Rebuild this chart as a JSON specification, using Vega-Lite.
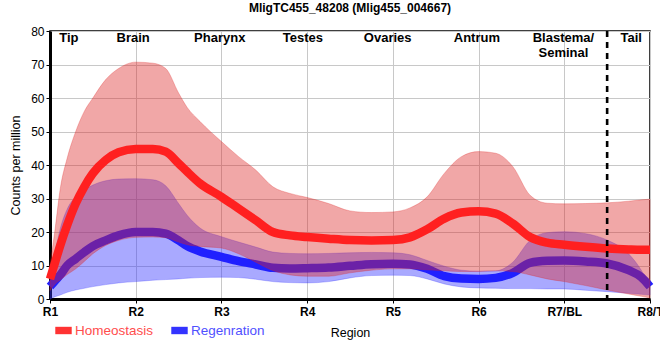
{
  "$schema": "https://vega.github.io/schema/vega-lite/v6.json",
  "width": 600,
  "height": 268,
  "autosize": "none",
  "padding": {"left": 50, "top": 31, "right": 10, "bottom": 61},
  "title": {"text": "MligTC455_48208 (Mlig455_004667)", "fontSize": 12, "fontWeight": "bold", "font": "Liberation Sans", "offset": 10, "color": "#000000"},
  "config": {
    "font": "Liberation Sans",
    "view": {"stroke": "#000000", "strokeWidth": 1.5},
    "axis": {"gridColor": "#c8c8c8", "gridWidth": 1, "domainColor": "#000000", "domainWidth": 3, "tickColor": "#000000", "labelColor": "#000000", "titleColor": "#000000", "titleFontWeight": "normal", "titleFontSize": 12.5, "labelOverlap": false}
  },
  "datasets": {
    "expr": [
      {"idx": 1, "condition": "Homeostasis", "mean": 6, "lower": 2.5, "upper": 10},
      {"idx": 1.06, "condition": "Homeostasis", "mean": 11, "lower": 4.5, "upper": 21},
      {"idx": 1.12, "condition": "Homeostasis", "mean": 16, "lower": 5.7, "upper": 33},
      {"idx": 1.2, "condition": "Homeostasis", "mean": 22, "lower": 7.3, "upper": 42},
      {"idx": 1.3, "condition": "Homeostasis", "mean": 28.5, "lower": 9, "upper": 50},
      {"idx": 1.4, "condition": "Homeostasis", "mean": 33.5, "lower": 11.2, "upper": 56},
      {"idx": 1.5, "condition": "Homeostasis", "mean": 37.5, "lower": 13.5, "upper": 60},
      {"idx": 1.65, "condition": "Homeostasis", "mean": 41.5, "lower": 16, "upper": 65.5},
      {"idx": 1.8, "condition": "Homeostasis", "mean": 43.8, "lower": 17.5, "upper": 68.8},
      {"idx": 2, "condition": "Homeostasis", "mean": 44.8, "lower": 18.4, "upper": 70.7},
      {"idx": 2.2, "condition": "Homeostasis", "mean": 44.8, "lower": 18.5, "upper": 70.4},
      {"idx": 2.35, "condition": "Homeostasis", "mean": 44, "lower": 18.3, "upper": 68.8},
      {"idx": 2.5, "condition": "Homeostasis", "mean": 40.5, "lower": 17, "upper": 61.5},
      {"idx": 2.6, "condition": "Homeostasis", "mean": 38, "lower": 16.2, "upper": 57.2},
      {"idx": 2.75, "condition": "Homeostasis", "mean": 34.5, "lower": 15.7, "upper": 53},
      {"idx": 3, "condition": "Homeostasis", "mean": 30.5, "lower": 15.2, "upper": 47},
      {"idx": 3.2, "condition": "Homeostasis", "mean": 27, "lower": 13.5, "upper": 42.5},
      {"idx": 3.4, "condition": "Homeostasis", "mean": 23.5, "lower": 11, "upper": 38.5},
      {"idx": 3.6, "condition": "Homeostasis", "mean": 20, "lower": 8.5, "upper": 33.5},
      {"idx": 3.8, "condition": "Homeostasis", "mean": 19, "lower": 7.2, "upper": 31.5},
      {"idx": 4, "condition": "Homeostasis", "mean": 18.5, "lower": 6.8, "upper": 30.3},
      {"idx": 4.25, "condition": "Homeostasis", "mean": 18, "lower": 6.8, "upper": 28.5},
      {"idx": 4.5, "condition": "Homeostasis", "mean": 17.6, "lower": 7.8, "upper": 26.3},
      {"idx": 4.75, "condition": "Homeostasis", "mean": 17.5, "lower": 8.6, "upper": 25.8},
      {"idx": 5, "condition": "Homeostasis", "mean": 17.6, "lower": 9, "upper": 26},
      {"idx": 5.2, "condition": "Homeostasis", "mean": 18.4, "lower": 9, "upper": 27.2},
      {"idx": 5.4, "condition": "Homeostasis", "mean": 20.8, "lower": 8.7, "upper": 30.5},
      {"idx": 5.6, "condition": "Homeostasis", "mean": 24, "lower": 8.4, "upper": 37.5},
      {"idx": 5.8, "condition": "Homeostasis", "mean": 25.8, "lower": 8.2, "upper": 42.5},
      {"idx": 6, "condition": "Homeostasis", "mean": 26.2, "lower": 8.2, "upper": 44},
      {"idx": 6.2, "condition": "Homeostasis", "mean": 25.5, "lower": 8.4, "upper": 43.5},
      {"idx": 6.4, "condition": "Homeostasis", "mean": 22.5, "lower": 8.2, "upper": 39.5},
      {"idx": 6.6, "condition": "Homeostasis", "mean": 18.5, "lower": 7.2, "upper": 31},
      {"idx": 6.8, "condition": "Homeostasis", "mean": 16.8, "lower": 6, "upper": 28.6},
      {"idx": 7, "condition": "Homeostasis", "mean": 16.2, "lower": 5.2, "upper": 28.4},
      {"idx": 7.25, "condition": "Homeostasis", "mean": 15.6, "lower": 4, "upper": 28.5},
      {"idx": 7.5, "condition": "Homeostasis", "mean": 15.1, "lower": 2.7, "upper": 28.7},
      {"idx": 7.75, "condition": "Homeostasis", "mean": 14.8, "lower": 1.5, "upper": 29.2},
      {"idx": 7.9, "condition": "Homeostasis", "mean": 14.7, "lower": 0.8, "upper": 29.6},
      {"idx": 8, "condition": "Homeostasis", "mean": 14.7, "lower": 0.3, "upper": 29.8},
      {"idx": 1, "condition": "Regenration", "mean": 3.7, "lower": 0, "upper": 5.5},
      {"idx": 1.06, "condition": "Regenration", "mean": 5.5, "lower": 0.7, "upper": 14},
      {"idx": 1.12, "condition": "Regenration", "mean": 7.2, "lower": 1.2, "upper": 21},
      {"idx": 1.2, "condition": "Regenration", "mean": 10, "lower": 2, "upper": 26.8},
      {"idx": 1.3, "condition": "Regenration", "mean": 12, "lower": 2.7, "upper": 30.5},
      {"idx": 1.4, "condition": "Regenration", "mean": 14, "lower": 3.2, "upper": 32.5},
      {"idx": 1.5, "condition": "Regenration", "mean": 15.8, "lower": 3.7, "upper": 34},
      {"idx": 1.65, "condition": "Regenration", "mean": 17.5, "lower": 4.3, "upper": 35.3},
      {"idx": 1.8, "condition": "Regenration", "mean": 19, "lower": 4.8, "upper": 35.8},
      {"idx": 2, "condition": "Regenration", "mean": 20, "lower": 5.2, "upper": 35.9},
      {"idx": 2.2, "condition": "Regenration", "mean": 20, "lower": 5.6, "upper": 35.6},
      {"idx": 2.35, "condition": "Regenration", "mean": 19.5, "lower": 5.8, "upper": 33.8},
      {"idx": 2.5, "condition": "Regenration", "mean": 17.5, "lower": 6, "upper": 28.5},
      {"idx": 2.6, "condition": "Regenration", "mean": 15.8, "lower": 6.2, "upper": 25},
      {"idx": 2.75, "condition": "Regenration", "mean": 14.2, "lower": 6.4, "upper": 21.2},
      {"idx": 3, "condition": "Regenration", "mean": 12.6, "lower": 6.5, "upper": 18.6},
      {"idx": 3.2, "condition": "Regenration", "mean": 11.3, "lower": 6.4, "upper": 17},
      {"idx": 3.4, "condition": "Regenration", "mean": 10.3, "lower": 5.9, "upper": 15.5},
      {"idx": 3.6, "condition": "Regenration", "mean": 9.3, "lower": 5.2, "upper": 14},
      {"idx": 3.8, "condition": "Regenration", "mean": 9.1, "lower": 4.9, "upper": 13.6},
      {"idx": 4, "condition": "Regenration", "mean": 9.2, "lower": 4.8, "upper": 13.5},
      {"idx": 4.25, "condition": "Regenration", "mean": 9.4, "lower": 5.2, "upper": 13.6},
      {"idx": 4.5, "condition": "Regenration", "mean": 9.9, "lower": 6.3, "upper": 13.8},
      {"idx": 4.75, "condition": "Regenration", "mean": 10.4, "lower": 7, "upper": 13.9},
      {"idx": 5, "condition": "Regenration", "mean": 10.5, "lower": 7.1, "upper": 13.8},
      {"idx": 5.2, "condition": "Regenration", "mean": 10.3, "lower": 7, "upper": 13.2},
      {"idx": 5.4, "condition": "Regenration", "mean": 9, "lower": 6, "upper": 11.5},
      {"idx": 5.6, "condition": "Regenration", "mean": 6.8, "lower": 4.5, "upper": 9.8},
      {"idx": 5.8, "condition": "Regenration", "mean": 6.1, "lower": 3.6, "upper": 8.6},
      {"idx": 6, "condition": "Regenration", "mean": 6, "lower": 3.3, "upper": 8.3},
      {"idx": 6.2, "condition": "Regenration", "mean": 6.3, "lower": 3.2, "upper": 8.4},
      {"idx": 6.4, "condition": "Regenration", "mean": 7.8, "lower": 3.1, "upper": 11},
      {"idx": 6.6, "condition": "Regenration", "mean": 10.8, "lower": 3.1, "upper": 17.5},
      {"idx": 6.8, "condition": "Regenration", "mean": 11.4, "lower": 3, "upper": 19.8},
      {"idx": 7, "condition": "Regenration", "mean": 11.5, "lower": 3, "upper": 20.1},
      {"idx": 7.25, "condition": "Regenration", "mean": 11.2, "lower": 2.6, "upper": 19.5},
      {"idx": 7.5, "condition": "Regenration", "mean": 10.6, "lower": 2.2, "upper": 17.6},
      {"idx": 7.75, "condition": "Regenration", "mean": 8.6, "lower": 1.7, "upper": 13.5},
      {"idx": 7.9, "condition": "Regenration", "mean": 6.5, "lower": 1.4, "upper": 8.5},
      {"idx": 8, "condition": "Regenration", "mean": 3.7, "lower": 1.2, "upper": 3.7}
    ],
    "regions": [
      {"idx": 1.22, "pos": 79.6, "label": "Tip"},
      {"idx": 1.97, "pos": 79.6, "label": "Brain"},
      {"idx": 2.98, "pos": 79.6, "label": "Pharynx"},
      {"idx": 3.95, "pos": 79.6, "label": "Testes"},
      {"idx": 4.94, "pos": 79.6, "label": "Ovaries"},
      {"idx": 5.98, "pos": 79.6, "label": "Antrum"},
      {"idx": 6.99, "pos": 79.6, "label": "Blastema/\nSeminal"},
      {"idx": 7.78, "pos": 79.6, "label": "Tail"}
    ],
    "divider": [{"idx": 7.5}]
  },
  "encoding": {
    "x": {"field": "idx", "type": "quantitative", "scale": {"domain": [1, 8], "nice": false, "zero": false},
      "axis": {"title": "Region", "values": [1, 2, 3, 4, 5, 6, 7, 8], "labelExpr": "['R1','R2','R3','R4','R5','R6','R7/BL','R8/T'][round(datum.value)-1]", "labelFontSize": 12, "labelFontWeight": "bold", "tickSize": 4, "labelPadding": 3, "titlePadding": 9, "grid": true, "labelFlush": false}},
    "y": {"field": "mean", "type": "quantitative", "scale": {"domain": [0, 80], "nice": false},
      "axis": {"title": "Counts per million", "values": [0, 10, 20, 30, 40, 50, 60, 70, 80], "labelFontSize": 12, "tickSize": 4, "labelPadding": 2, "titlePadding": 8, "grid": true}}
  },
  "layer": [
    {
      "data": {"name": "expr"},
      "transform": [{"filter": "datum.condition === 'Regenration'"}],
      "mark": {"type": "area", "interpolate": "monotone", "fill": "#3333ff", "fillOpacity": 0.42, "stroke": "#3333ff", "strokeWidth": 0.8, "strokeOpacity": 0.35},
      "encoding": {
        "y": {"field": "lower", "type": "quantitative", "scale": {"domain": [0, 80], "nice": false},
          "axis": {"title": "Counts per million", "values": [0, 10, 20, 30, 40, 50, 60, 70, 80], "labelFontSize": 12, "tickSize": 4, "labelPadding": 2, "titlePadding": 8, "grid": true}},
        "y2": {"field": "upper"}
      }
    },
    {
      "data": {"name": "expr"},
      "transform": [{"filter": "datum.condition === 'Regenration'"}],
      "mark": {"type": "line", "interpolate": "monotone", "strokeWidth": 8.5},
      "encoding": {
        "color": {"field": "condition", "type": "nominal"}
      }
    },
    {
      "data": {"name": "expr"},
      "transform": [{"filter": "datum.condition === 'Homeostasis'"}],
      "mark": {"type": "area", "interpolate": "monotone", "fill": "#dd2222", "fillOpacity": 0.4, "stroke": "#dd2222", "strokeWidth": 0.8, "strokeOpacity": 0.35},
      "encoding": {
        "y": {"field": "lower", "type": "quantitative", "scale": {"domain": [0, 80], "nice": false},
          "axis": {"title": "Counts per million", "values": [0, 10, 20, 30, 40, 50, 60, 70, 80], "labelFontSize": 12, "tickSize": 4, "labelPadding": 2, "titlePadding": 8, "grid": true}},
        "y2": {"field": "upper"}
      }
    },
    {
      "data": {"name": "expr"},
      "transform": [{"filter": "datum.condition === 'Homeostasis'"}],
      "mark": {"type": "line", "interpolate": "monotone", "strokeWidth": 8.5},
      "encoding": {
        "color": {"field": "condition", "type": "nominal",
          "scale": {"domain": ["Homeostasis", "Regenration"], "range": ["#ff2020", "#2020ff"]},
          "legend": {"orient": "none", "legendX": 5, "legendY": 291, "direction": "horizontal", "title": null,
            "symbolType": "M-1,-0.45L1,-0.45L1,0.45L-1,0.45Z", "symbolSize": 270, "symbolStrokeWidth": 0,
            "labelFontSize": 13.5, "labelOffset": 3, "columnPadding": 17,
            "encode": {
              "symbols": {"update": {"fill": {"signal": "datum.value === 'Homeostasis' ? '#ff3333' : '#3333ff'"}, "strokeWidth": {"value": 0}}},
              "labels": {"update": {"fill": {"signal": "datum.value === 'Homeostasis' ? '#ff4d4d' : '#5050ff'"}}}
            }}}
      }
    },
    {
      "data": {"name": "divider"},
      "mark": {"type": "rule", "color": "#000000", "strokeWidth": 2.6, "strokeDash": [6, 5]},
      "encoding": {"y": null}
    },
    {
      "data": {"name": "regions"},
      "mark": {"type": "text", "fontSize": 13, "fontWeight": "bold", "baseline": "top", "align": "center", "lineBreak": "\n", "lineHeight": 15, "color": "#000000"},
      "encoding": {
        "y": {"field": "pos", "type": "quantitative"},
        "text": {"field": "label", "type": "nominal"}
      }
    }
  ]
}
